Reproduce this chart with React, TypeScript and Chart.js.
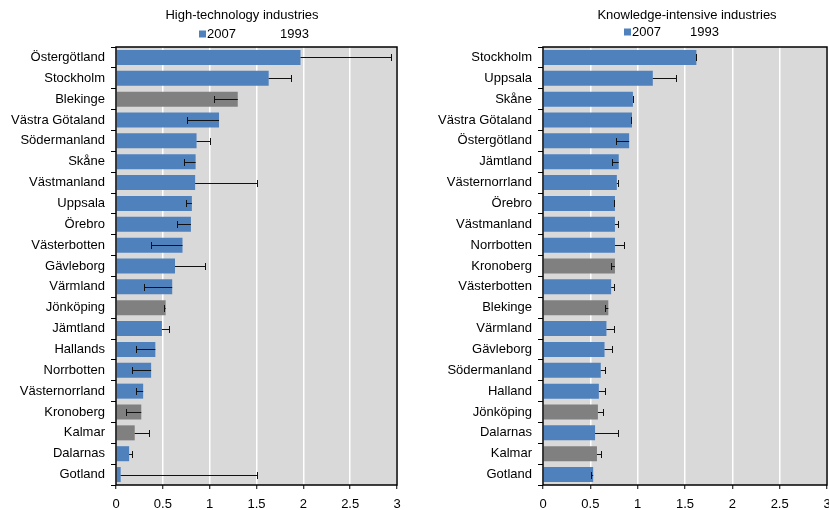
import React, { useEffect, useRef } from "react";
import { Chart, registerables } from "chart.js";
Chart.register(...registerables);

const FONT = "'Liberation Sans', Arial, sans-serif";

const hiTechRegions = ["Östergötland", "Stockholm", "Blekinge", "Västra Götaland", "Södermanland", "Skåne", "Västmanland", "Uppsala", "Örebro", "Västerbotten", "Gävleborg", "Värmland", "Jönköping", "Jämtland", "Hallands", "Norrbotten", "Västernorrland", "Kronoberg", "Kalmar", "Dalarnas", "Gotland"];
const hiTech2007 = [1.97, 1.63, 1.30, 1.10, 0.86, 0.85, 0.845, 0.81, 0.80, 0.71, 0.63, 0.60, 0.53, 0.49, 0.42, 0.375, 0.29, 0.27, 0.20, 0.14, 0.05];
const hiTech1993 = [2.94, 1.87, 1.05, 0.76, 1.00, 0.73, 1.51, 0.75, 0.65, 0.37, 0.95, 0.30, 0.51, 0.57, 0.21, 0.175, 0.21, 0.11, 0.35, 0.17, 1.50];

const knowRegions = ["Stockholm", "Uppsala", "Skåne", "Västra Götaland", "Östergötland", "Jämtland", "Västernorrland", "Örebro", "Västmanland", "Norrbotten", "Kronoberg", "Västerbotten", "Blekinge", "Värmland", "Gävleborg", "Södermanland", "Halland", "Jönköping", "Dalarnas", "Kalmar", "Gotland"];
const know2007 = [1.62, 1.16, 0.95, 0.94, 0.91, 0.80, 0.78, 0.76, 0.76, 0.76, 0.76, 0.72, 0.69, 0.67, 0.65, 0.61, 0.59, 0.58, 0.55, 0.57, 0.53];
const know1993 = [1.62, 1.40, 0.95, 0.93, 0.77, 0.73, 0.795, 0.75, 0.795, 0.86, 0.72, 0.75, 0.66, 0.75, 0.73, 0.655, 0.655, 0.63, 0.79, 0.615, 0.51];

const grayRegions = ["Blekinge", "Jönköping", "Kronoberg", "Kalmar"];
const xTicks = [0, 0.5, 1, 1.5, 2, 2.5, 3];
const xTickLabels = ["0", "0.5", "1", "1.5", "2", "2.5", "3"];
const seriesLabels = ["2007", "1993"];

const BLUE = "#4f81bd";
const GRAY = "#808080";

type PanelProps = {
  title: string;
  regions: string[];
  v2007: number[];
  v1993: number[];
  width: number;
  yAxisWidth: number;
  padRight: number;
  titleX: number;
  legendX: number;
  legendY: number;
  seriesGap: number;
};

function Panel(p: PanelProps) {
  const ref = useRef<HTMLCanvasElement | null>(null);
  useEffect(() => {
    if (!ref.current) return;
    const bgPlugin = {
      id: "bgPlugin",
      beforeDraw(chart: any) {
        const { ctx, chartArea: a } = chart;
        ctx.save();
        ctx.fillStyle = "#d9d9d9";
        ctx.fillRect(a.left, a.top, a.right - a.left, a.bottom - a.top);
        ctx.restore();
      },
      afterDraw(chart: any) {
        const { ctx, chartArea: a } = chart;
        ctx.save();
        ctx.strokeStyle = "#000";
        ctx.lineWidth = 1.5;
        ctx.strokeRect(a.left, a.top, a.right - a.left, a.bottom - a.top);
        // title
        ctx.fillStyle = "#000";
        ctx.font = `13px ${FONT}`;
        ctx.textBaseline = "middle";
        ctx.textAlign = "center";
        ctx.fillText(p.title, p.titleX, 15);
        // legend
        ctx.textAlign = "left";
        ctx.fillStyle = BLUE;
        ctx.fillRect(p.legendX, p.legendY - 3.5, 7, 7);
        ctx.fillStyle = "#000";
        ctx.fillText(seriesLabels[0], p.legendX + 8, p.legendY);
        ctx.fillText(seriesLabels[1], p.legendX + 8 + p.seriesGap, p.legendY);
        ctx.restore();
      },
    };
    const errPlugin = {
      id: "errPlugin",
      afterDatasetsDraw(chart: any) {
        const meta = chart.getDatasetMeta(0);
        const xs = chart.scales.x;
        const ctx = chart.ctx;
        ctx.save();
        ctx.strokeStyle = "#111";
        ctx.lineWidth = 1;
        p.v1993.forEach((v, i) => {
          const el = meta.data[i];
          const y = Math.round(el.y) + 0.5;
          const x0 = xs.getPixelForValue(p.v2007[i]);
          const x1 = Math.round(xs.getPixelForValue(v)) + 0.5;
          ctx.beginPath();
          ctx.moveTo(x0, y);
          ctx.lineTo(x1, y);
          ctx.moveTo(x1, y - 3.5);
          ctx.lineTo(x1, y + 3.5);
          ctx.stroke();
        });
        ctx.restore();
      },
    };
    const chart = new Chart(ref.current, {
      type: "bar",
      data: {
        labels: p.regions,
        datasets: [
          {
            label: seriesLabels[0],
            data: p.v2007,
            backgroundColor: p.regions.map((r) => (grayRegions.includes(r) ? GRAY : BLUE)),
            borderWidth: 0,
            barPercentage: 0.72,
            categoryPercentage: 1,
          },
        ],
      },
      options: {
        indexAxis: "y",
        animation: false,
        responsive: false,
        layout: { padding: { top: 47, right: p.padRight, bottom: 0, left: 0 } },
        plugins: { legend: { display: false }, title: { display: false }, tooltip: { enabled: false } },
        scales: {
          x: {
            type: "linear",
            min: 0,
            max: 3,
            afterBuildTicks: (s: any) => {
              s.ticks = xTicks.map((v) => ({ value: v }));
            },
            afterFit: (s: any) => {
              s.height = 25;
            },
            grid: { color: "#ffffff", lineWidth: 1.5, drawTicks: true, tickLength: 4, tickColor: "#000", tickWidth: 1 },
            border: { display: false },
            ticks: {
              color: "#000",
              font: { size: 13, family: FONT },
              padding: 8,
              callback: (_v: any, i: number) => xTickLabels[i],
            },
          },
          y: {
            type: "category",
            afterFit: (s: any) => {
              s.width = p.yAxisWidth;
            },
            grid: { offset: true, drawOnChartArea: false, tickLength: 5, tickColor: "#000", lineWidth: 1 },
            border: { display: false },
            ticks: { color: "#000", font: { size: 13, family: FONT }, padding: 6, autoSkip: false },
          },
        },
      },
      plugins: [bgPlugin, errPlugin],
    } as any);
    return () => chart.destroy();
  }, []);
  return <canvas ref={ref} width={p.width} height={510} style={{ display: "block" }} />;
}

export default function App() {
  return (
    <div style={{ position: "absolute", left: 0, top: 0, width: 829, height: 510, overflow: "hidden", background: "#fff" }}>
      <div style={{ position: "absolute", left: 0, top: 0 }}>
        <Panel title="High-technology industries" regions={hiTechRegions} v2007={hiTech2007} v1993={hiTech1993}
          width={414} yAxisWidth={116} padRight={17} titleX={242} legendX={199} legendY={34} seriesGap={73} />
      </div>
      <div style={{ position: "absolute", left: 414, top: 0 }}>
        <Panel title="Knowledge-intensive industries" regions={knowRegions} v2007={know2007} v1993={know1993}
          width={430} yAxisWidth={129} padRight={17} titleX={273} legendX={210} legendY={32} seriesGap={58} />
      </div>
    </div>
  );
}
